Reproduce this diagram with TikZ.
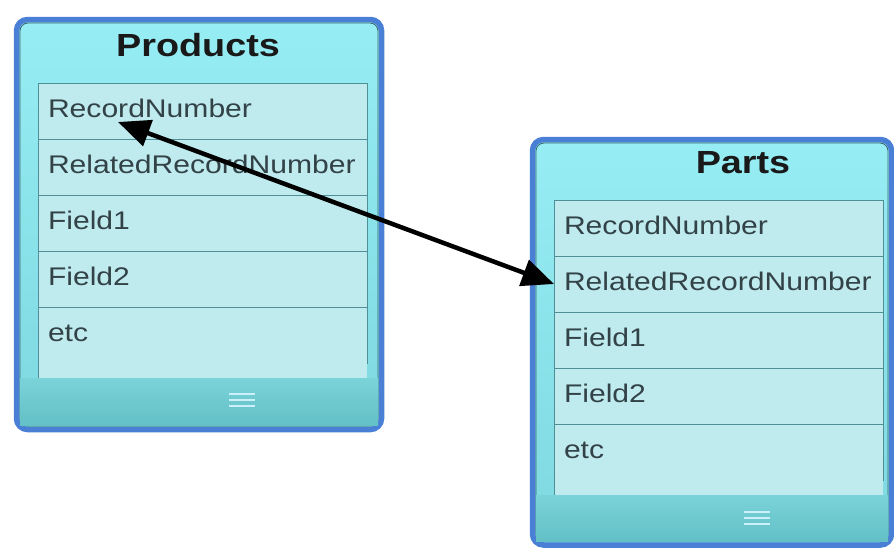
\documentclass[tikz,border=0pt]{standalone}
\usepackage{fontspec}
\setmainfont{Liberation Sans}
\usepackage{graphicx}
\usetikzlibrary{positioning,arrows.meta}

\definecolor{edgeblue}{HTML}{4A7FD6}
\definecolor{cyanhi}{HTML}{97EDF4}
\definecolor{cyanlo}{HTML}{7ED8E0}
\definecolor{cellfill}{HTML}{BFEBEF}
\definecolor{cellline}{HTML}{4F9096}
\definecolor{barhi}{HTML}{7AD3D8}
\definecolor{barlo}{HTML}{62C0C6}
\definecolor{fieldtext}{HTML}{324247}

% the lettering in the tables is a bit wider than plain Arial
\newcommand{\wide}[1]{\scalebox{1.18}[1]{#1}}

\begin{document}
\begin{tikzpicture}[
    x=1pt, y=-1pt,
    tablebox/.style={draw=edgeblue, line width=5.5pt, rounded corners=11pt,
      top color=cyanhi, bottom color=cyanlo},
    innerrim/.style={draw=cellline!70!black, line width=0.8pt, rounded corners=8pt},
    footbar/.style={top color=barhi, bottom color=barlo},
    field/.style={draw=cellline, fill=cellfill, line width=0.8pt, outer sep=0pt,
      minimum height=56pt, text width=309pt, inner xsep=10pt, inner ysep=0pt,
      align=left, text=fieldtext, font=\fontsize{25.5}{28}\selectfont,
      text height=18pt, text depth=6pt},
    title/.style={font=\bfseries\fontsize{32}{35}\selectfont, text=black!90},
    grip/.style={draw=white!80!cyan, line width=1.6pt},
    link/.style={line width=4.5pt,
      {Triangle[length=32pt,width=27pt]}-{Triangle[length=32pt,width=27pt]}}
  ]
  \useasboundingbox (0,0) rectangle (894,549);

  % Products table
  \draw[tablebox] (16.5,19.5) rectangle (381.5,429.5);
  \draw[innerrim] (20,23) rectangle (378,426);
  \fill[footbar] (20,378) rectangle (378,425.5);
  \node[title] (prod) at (198,45) {\wide{Products}};
  \node[field, anchor=north west] (pr1) at (38,83) {\wide{RecordNumber}};
  \node[field, below=0pt of pr1] (pr2) {\wide{RelatedRecordNumber}};
  \node[field, below=0pt of pr2] (pr3) {\wide{Field1}};
  \node[field, below=0pt of pr3] (pr4) {\wide{Field2}};
  \node[field, below=0pt of pr4] (pr5) {\wide{etc}};
  \fill[cellfill] (pr5.south west) rectangle ++(329,15);
  \draw[cellline, line width=0.8pt] (pr5.south west) -- ++(0,15);
  \foreach \y in {394,400,406}
    \draw[grip] (229,\y) -- (255,\y);

  % Parts table
  \draw[tablebox] (532.5,139.5) rectangle (891.5,545);
  \draw[innerrim] (536,143) rectangle (888,541.5);
  \fill[footbar] (536,495) rectangle (888,541);
  \node[title] (part) at (743,163) {\wide{Parts}};
  \node[field, anchor=north west] (pa1) at (554,200) {\wide{RecordNumber}};
  \node[field, below=0pt of pa1] (pa2) {\wide{RelatedRecordNumber}};
  \node[field, below=0pt of pa2] (pa3) {\wide{Field1}};
  \node[field, below=0pt of pa3] (pa4) {\wide{Field2}};
  \node[field, below=0pt of pa4] (pa5) {\wide{etc}};
  \fill[cellfill] (pa5.south west) rectangle ++(329,15);
  \draw[cellline, line width=0.8pt] (pa5.south west) -- ++(0,15);
  \foreach \y in {512,518,524}
    \draw[grip] (744,\y) -- (770,\y);

  % Draw the link between the two record number fields
  \coordinate (recpin) at ([xshift=80pt,yshift=-11pt]pr1.west);
  \draw[link] (recpin) -- (pa2.west);
\end{tikzpicture}
\end{document}
